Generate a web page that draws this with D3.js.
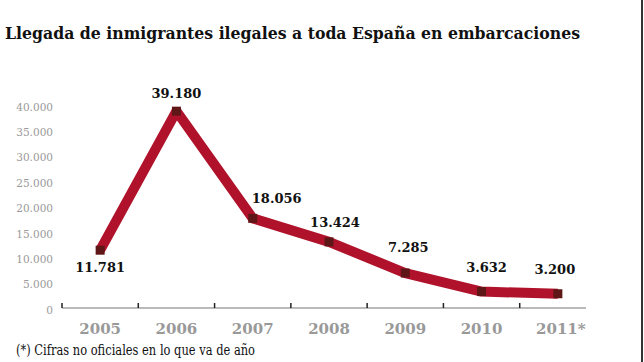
<!DOCTYPE html>
<html>
<head>
<meta charset="utf-8">
<script src="https://cdn.jsdelivr.net/npm/d3@7"></script>
<style>
  body { margin: 0; background: #fff; }
  svg { display: block; }
</style>
</head>
<body>
<div id="chart"></div>
<script>
// datos
var years = ['2005', '2006', '2007', '2008', '2009', '2010', '2011*'];
var values = [11781, 39180, 18056, 13424, 7285, 3632, 3200];
var valueLabels = ['11.781', '39.180', '18.056', '13.424', '7.285', '3.632', '3.200'];
var yTicks = [0, 5000, 10000, 15000, 20000, 25000, 30000, 35000, 40000];

var title = 'Llegada de inmigrantes ilegales a toda España en embarcaciones';
var note = '(*) Cifras no oficiales en lo que va de año';

var W = 644, H = 362;
// label nudges (dx, dy) relative to each point
var nudge = [[0, 22], [0, -13], [24, -15], [6, -15], [3, -21], [5, -20], [-3, -20]];

var fmt = d3.formatLocale({decimal: ',', thousands: '.', grouping: [3], currency: ['', '€']}).format(',');

var svg = d3.select('#chart').append('svg')
    .attr('width', W)
    .attr('height', H);

var x = d3.scaleBand().domain(years).range([62, 596]).padding(0);
var y = d3.scaleLinear().domain([0, 40000]).range([310, 107]);

svg.append('text')
    .attr('x', 5)
    .attr('y', 39)
    .attr('textLength', 575)
    .attr('lengthAdjust', 'spacingAndGlyphs')
    .attr('font-family', 'DejaVu Serif')
    .attr('font-weight', 'bold')
    .attr('font-size', 17)
    .attr('fill', '#111')
    .text(title);

// y labels
svg.selectAll('.ylab').data(yTicks).enter().append('text')
    .attr('class', 'ylab')
    .attr('x', 53)
    .attr('y', function(d) { return y(d); })
    .attr('dy', '0.35em')
    .attr('text-anchor', 'end')
    .attr('font-family', 'DejaVu Serif')
    .attr('font-size', 10.5)
    .attr('fill', '#999')
    .text(function(d) { return fmt(d); });

// x axis
var axisY = y(0) - 2;
svg.append('line')
    .attr('x1', x.range()[0]).attr('x2', x.range()[1] - 10)
    .attr('y1', axisY).attr('y2', axisY)
    .attr('stroke', '#777').attr('stroke-width', 1.2);

svg.selectAll('.tick').data(years).enter().append('line')
    .attr('class', 'tick')
    .attr('x1', function(d) { return x(d); })
    .attr('x2', function(d) { return x(d); })
    .attr('y1', axisY - 5).attr('y2', axisY)
    .attr('stroke', '#222').attr('stroke-width', 1.5);

svg.selectAll('.xlab').data(years).enter().append('text')
    .attr('class', 'xlab')
    .attr('x', function(d) { return x(d) + x.bandwidth() / 2 + (d.indexOf('*') > -1 ? 3 : 0); })
    .attr('y', 334)
    .attr('text-anchor', 'middle')
    .attr('font-family', 'DejaVu Serif')
    .attr('font-weight', 'bold')
    .attr('font-size', 15)
    .attr('fill', '#999')
    .text(function(d) { return d; });

// line
var pts = years.map(function(d, i) { return [x(d) + x.bandwidth() / 2, y(values[i])]; });

svg.append('path')
    .datum(pts)
    .attr('d', d3.line())
    .attr('fill', 'none')
    .attr('stroke', '#b0122b')
    .attr('stroke-width', 10)
    .attr('stroke-linejoin', 'bevel');

svg.selectAll('.mk').data(pts).enter().append('rect')
    .attr('class', 'mk')
    .attr('x', function(d) { return d[0] - 4.5; })
    .attr('y', function(d) { return d[1] - 4.5; })
    .attr('width', 9).attr('height', 9)
    .attr('fill', '#5e1616');

svg.selectAll('.vlab').data(pts).enter().append('text')
    .attr('class', 'vlab')
    .attr('x', function(d, i) { return d[0] + nudge[i][0]; })
    .attr('y', function(d, i) { return d[1] + nudge[i][1]; })
    .attr('text-anchor', 'middle')
    .attr('font-family', 'DejaVu Serif')
    .attr('font-weight', 'bold')
    .attr('font-size', 13)
    .attr('fill', '#111')
    .text(function(d, i) { return valueLabels[i]; });

svg.append('text')
    .attr('x', 16)
    .attr('y', 355)
    .attr('textLength', 239)
    .attr('lengthAdjust', 'spacingAndGlyphs')
    .attr('font-family', 'DejaVu Serif')
    .attr('font-size', 14)
    .attr('fill', '#111')
    .text(note);

// right border
svg.append('line')
    .attr('x1', W - 2).attr('x2', W - 2)
    .attr('y1', 0).attr('y2', H)
    .attr('stroke', '#333').attr('stroke-width', 2);
</script>
</body>
</html>
